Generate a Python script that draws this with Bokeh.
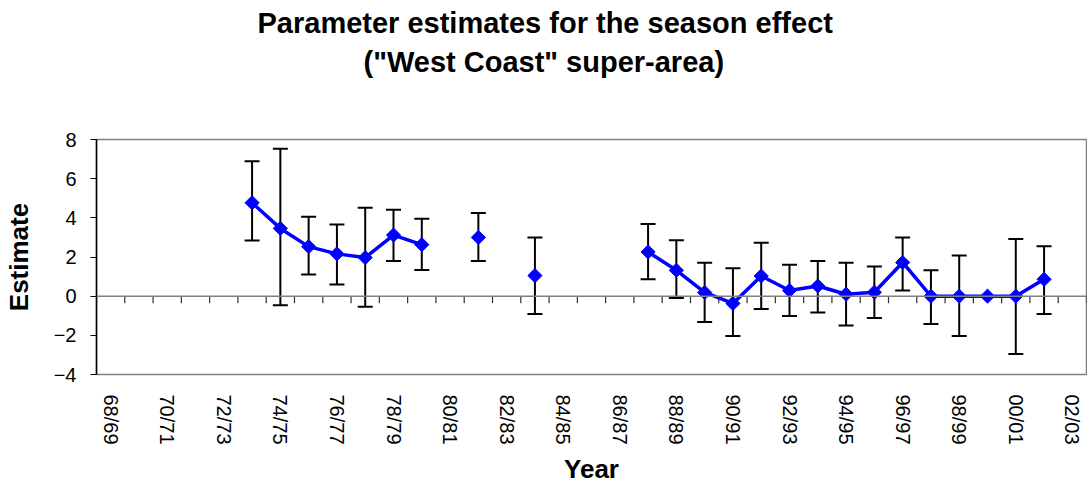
import math
import numpy as np
from bokeh.plotting import figure
from bokeh.models import (ColumnDataSource, FixedTicker, Range1d, Span, Whisker,
                          TeeHead, Title)
from bokeh.embed import file_html
from bokeh.resources import INLINE

# ---- data -------------------------------------------------------------
seasons = ["68/69", "69/70", "70/71", "71/72", "72/73", "73/74", "74/75",
           "75/76", "76/77", "77/78", "78/79", "79/80", "80/81", "81/82",
           "82/83", "83/84", "84/85", "85/86", "86/87", "87/88", "88/89",
           "89/90", "90/91", "91/92", "92/93", "93/94", "94/95", "95/96",
           "96/97", "97/98", "98/99", "99/00", "00/01", "01/02", "02/03"]

N = None
estimate = [N, N, N, N, N, 4.77, 3.46, 2.53, 2.16, 1.97, 3.12, 2.63, N, 3.00,
            N, 1.05, N, N, N, 2.26, 1.32, 0.19, -0.37, 1.03, 0.29, 0.52, 0.10,
            0.20, 1.72, 0.00, 0.00, 0.00, 0.00, 0.86, N]
upper = [N, N, N, N, N, 6.89, 7.53, 4.05, 3.66, 4.52, 4.41, 3.95, N, 4.25,
         N, 3.00, N, N, N, 3.68, 2.85, 1.71, 1.43, 2.73, 1.60, 1.79, 1.71,
         1.52, 3.00, 1.32, 2.08, N, 2.92, 2.55, N]
lower = [N, N, N, N, N, 2.84, -0.46, 1.11, 0.59, -0.54, 1.79, 1.33, N, 1.79,
         N, -0.91, N, N, N, 0.86, -0.09, -1.32, -2.03, -0.66, -1.01, -0.83,
         -1.50, -1.11, 0.29, -1.42, -2.03, N, -2.95, -0.91, N]

y_ticks = [-4, -2, 0, 2, 4, 6, 8]
title_lines = ["Parameter estimates for the season effect",
               "(\"West Coast\" super-area)"]
x_title = "Year"
y_title = "Estimate"

# ---- derived ------------------------------------------------------------
n = len(seasons)
xc = np.arange(n) + 0.5
est = np.array([np.nan if v is None else v for v in estimate], dtype=float)

line_src = ColumnDataSource(dict(x=xc, y=est))
pt_idx = [i for i, v in enumerate(estimate) if v is not None]
pt_src = ColumnDataSource(dict(x=[xc[i] for i in pt_idx],
                               y=[estimate[i] for i in pt_idx]))
eb_idx = [i for i in range(n) if upper[i] is not None and lower[i] is not None]
eb_src = ColumnDataSource(dict(x=[xc[i] for i in eb_idx],
                               up=[upper[i] for i in eb_idx],
                               lo=[lower[i] for i in eb_idx]))

FONT = "Liberation Sans"

p = figure(frame_width=990, frame_height=235, output_backend="svg",
           toolbar_location=None,
           x_range=Range1d(0, n), y_range=Range1d(y_ticks[0], y_ticks[-1]),
           min_border_left=84, min_border_right=1, min_border_top=139,
           min_border_bottom=104)
p.title = None
p.background_fill_color = "white"
p.border_fill_color = "white"
p.outline_line_color = "#808080"
p.outline_line_width = 1.5
p.xgrid.visible = False
p.ygrid.visible = False

# spacer between the plot and the two title lines
p.add_layout(Title(text=" ", text_font_size="1px", standoff=57), "above")
# title: two lines (second line nearest the plot)
p.add_layout(Title(text=title_lines[1], align="left", offset=267,
                   standoff=4, text_font=FONT, text_font_size="29px",
                   text_font_style="bold", text_color="black"), "above")
p.add_layout(Title(text=title_lines[0], align="left", offset=161,
                   standoff=5, text_font=FONT, text_font_size="29px",
                   text_font_style="bold", text_color="black"), "above")

# x axis (labels only, at bottom)
xa = p.xaxis[0]
xa.ticker = FixedTicker(ticks=[xc[i] for i in range(0, n, 2)])
xa.major_label_overrides = {float(xc[i]): seasons[i] for i in range(0, n, 2)}
xa.major_label_orientation = -math.pi / 2
xa.major_tick_line_color = None
xa.minor_tick_line_color = None
xa.major_tick_in = 0
xa.major_tick_out = 0
xa.axis_line_color = None
xa.major_label_standoff = 20
xa.major_label_text_font = FONT
xa.major_label_text_font_size = "20px"
xa.major_label_text_color = "black"
xa.axis_label = x_title
xa.axis_label_text_font = FONT
xa.axis_label_text_font_size = "26px"
xa.axis_label_text_font_style = "bold"
xa.axis_label_text_color = "black"
xa.axis_label_standoff = 6

# y axis
ya = p.yaxis[0]
ya.ticker = FixedTicker(ticks=y_ticks)
ya.minor_tick_line_color = None
ya.major_tick_in = 0
ya.major_tick_out = 6
ya.major_tick_line_color = "black"
ya.axis_line_color = "black"
ya.axis_line_width = 1.5
ya.major_label_standoff = 14
ya.major_label_text_font = FONT
ya.major_label_text_font_size = "20px"
ya.major_label_text_color = "black"
ya.axis_label = y_title
ya.axis_label_text_font = FONT
ya.axis_label_text_font_size = "26px"
ya.axis_label_text_font_style = "bold"
ya.axis_label_text_color = "black"
ya.axis_label_standoff = 17

# zero line with category boundary ticks
p.add_layout(Span(location=0, dimension="width", line_color="#808080",
                  line_width=1.5))
bounds = np.arange(n + 1)
tick_len = 0.36
p.segment(x0=bounds, y0=np.zeros(n + 1), x1=bounds, y1=-tick_len * np.ones(n + 1),
          line_color="#303030", line_width=1.2)

# error bars
p.add_layout(Whisker(source=eb_src, base="x", upper="up", lower="lo",
                     line_color="black", line_width=2,
                     upper_head=TeeHead(size=15, line_color="black", line_width=2),
                     lower_head=TeeHead(size=15, line_color="black", line_width=2)))

# series
p.line("x", "y", source=line_src, line_color="#0000FF", line_width=3.5)
p.scatter("x", "y", source=pt_src, marker="square", angle=math.pi / 4, size=10,
          fill_color="#0000FF", line_color="#0000FF")

open("out.html", "w").write(file_html(p, INLINE))
